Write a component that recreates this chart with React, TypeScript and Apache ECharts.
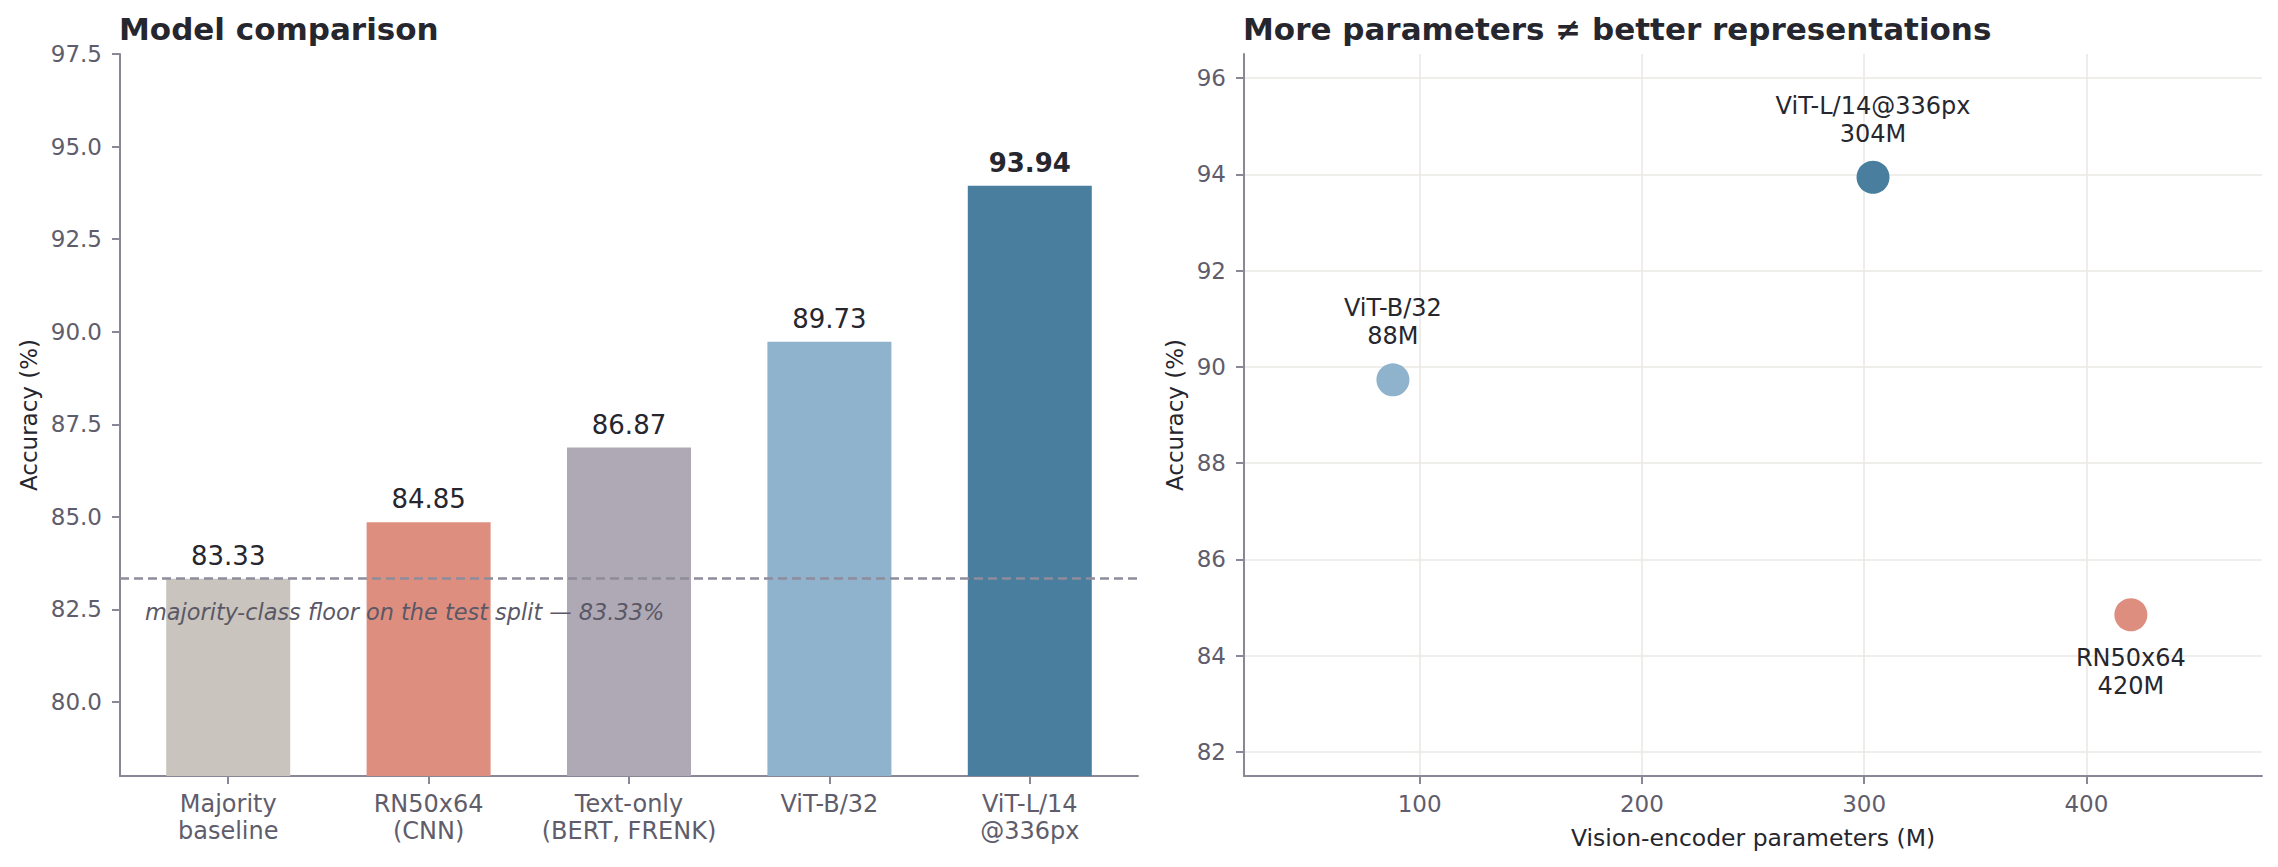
import { useEffect, useRef } from 'react';
import * as echarts from 'echarts';

const categories = ['Majority\nbaseline', 'RN50x64\n(CNN)', 'Text-only\n(BERT, FRENK)', 'ViT-B/32', 'ViT-L/14\n@336px'];
const accuracy = [83.33, 84.85, 86.87, 89.73, 93.94];
const barColors = ['#c9c4bd', '#de8e7f', '#afa9b5', '#8fb3cc', '#4a7e9e'];
const barTicks = [80, 82.5, 85, 87.5, 90, 92.5, 95, 97.5];
const majorityFloor = 83.33;

const pointNames = ['ViT-B/32', 'ViT-L/14@336px', 'RN50x64'];
const pointParams = [88, 304, 420];
const pointAccuracy = [89.73, 93.94, 84.85];
const pointColors = ['#8fb3cc', '#4a7e9e', '#de8e7f'];
const pointLabelPos = ['top', 'top', 'bottom'];
const paramTicks = [100, 200, 300, 400];
const accTicks = [82, 84, 86, 88, 90, 92, 94, 96];

const font = 'DejaVu Sans';
const axisColor = '#8a8797';
const tickText = '#5f5d6b';
const dark = '#26262e';

export default function App() {
  const chartRef = useRef<HTMLDivElement>(null);

  useEffect(() => {
    if (!chartRef.current) return;
    const chart = echarts.init(chartRef.current, undefined, { renderer: 'svg' });

    const axisLine = { show: true, onZero: false, lineStyle: { color: axisColor, width: 2 } };
    const axisTick = (values: number[]) => ({
      show: true,
      length: 8,
      lineStyle: { color: axisColor, width: 2 },
      customValues: values,
    });
    const labelStyle = { color: tickText, fontSize: 23, fontFamily: font };
    const nameStyle = { color: dark, fontSize: 23, fontFamily: font };
    const gridLine = { show: true, lineStyle: { color: '#ebe8e5', width: 1.6 } };
    // bar slots sit on a numeric axis so the outer padding matches the reference
    const slots = categories.map((_, i) => i);

    chart.setOption({
      animation: false,
      textStyle: { fontFamily: font },
      title: [
        {
          text: 'Model comparison',
          left: 114,
          top: 8,
          textStyle: { fontSize: 31, fontWeight: 'bold', color: dark, fontFamily: font },
        },
        {
          text: 'More parameters ≠ better representations',
          left: 1238,
          top: 8,
          textStyle: { fontSize: 31, fontWeight: 'bold', color: dark, fontFamily: font },
        },
      ],
      grid: [
        { left: 120, top: 54, width: 1018, height: 722 },
        { left: 1244, top: 54, width: 1018, height: 722 },
      ],
      xAxis: [
        {
          type: 'value',
          gridIndex: 0,
          min: -0.54,
          max: 4.54,
          axisLine,
          axisTick: axisTick(slots),
          axisLabel: {
            ...labelStyle,
            fontSize: 24,
            lineHeight: 27,
            margin: 14,
            customValues: slots,
            formatter: (v: number) => categories[Math.round(v)] ?? '',
          },
          splitLine: { show: false },
        },
        {
          type: 'value',
          gridIndex: 1,
          min: 21,
          max: 479,
          axisLine,
          axisTick: axisTick(paramTicks),
          axisLabel: { ...labelStyle, margin: 16, customValues: paramTicks },
          splitLine: gridLine,
          name: 'Vision-encoder parameters (M)',
          nameLocation: 'middle',
          nameGap: 50,
          nameTextStyle: { ...nameStyle, fontSize: 23.5 },
        },
      ],
      yAxis: [
        {
          type: 'value',
          gridIndex: 0,
          min: 78,
          max: 97.5,
          axisLine,
          axisTick: axisTick(barTicks),
          axisLabel: { ...labelStyle, margin: 18, customValues: barTicks, formatter: (v: number) => v.toFixed(1) },
          splitLine: { show: false },
          name: 'Accuracy (%)',
          nameLocation: 'middle',
          nameGap: 80,
          nameTextStyle: nameStyle,
        },
        {
          type: 'value',
          gridIndex: 1,
          min: 81.5,
          max: 96.5,
          axisLine,
          axisTick: axisTick(accTicks),
          axisLabel: { ...labelStyle, margin: 18, customValues: accTicks },
          splitLine: gridLine,
          name: 'Accuracy (%)',
          nameLocation: 'middle',
          nameGap: 58,
          nameTextStyle: nameStyle,
        },
      ],
      series: [
        {
          type: 'bar',
          xAxisIndex: 0,
          yAxisIndex: 0,
          barWidth: 124,
          data: accuracy.map((v, i) => ({
            value: [i, v],
            itemStyle: { color: barColors[i] },
            label: i === accuracy.length - 1 ? { fontWeight: 'bold' } : undefined,
          })),
          label: {
            show: true,
            position: 'top',
            distance: 10,
            fontSize: 26,
            color: dark,
            fontFamily: font,
            formatter: (p: any) => p.value[1].toFixed(2),
          },
          markLine: {
            silent: true,
            symbol: 'none',
            lineStyle: { color: '#8f8c9b', type: [9, 5], width: 2.5 },
            label: {
              show: true,
              position: 'insideStartBottom',
              distance: [25, 22],
              formatter: `majority-class floor on the test split — ${majorityFloor.toFixed(2)}%`,
              fontStyle: 'italic',
              fontSize: 22.4,
              color: '#5a5866',
              fontFamily: font,
            },
            data: [{ yAxis: majorityFloor }],
          },
        },
        {
          type: 'scatter',
          xAxisIndex: 1,
          yAxisIndex: 1,
          symbolSize: 33,
          data: pointNames.map((n, i) => ({
            name: n,
            value: [pointParams[i], pointAccuracy[i]],
            itemStyle: { color: pointColors[i], opacity: 1 },
            label: { position: pointLabelPos[i] },
          })),
          label: {
            show: true,
            distance: 13,
            fontSize: 24,
            lineHeight: 28,
            color: dark,
            fontFamily: font,
            formatter: (p: any) => `${p.name}\n${p.value[0]}M`,
          },
        },
      ],
    });

    return () => {
      chart.dispose();
    };
  }, []);

  return <div ref={chartRef} style={{ position: 'absolute', left: 0, top: 0, width: 2278, height: 867 }} />;
}
